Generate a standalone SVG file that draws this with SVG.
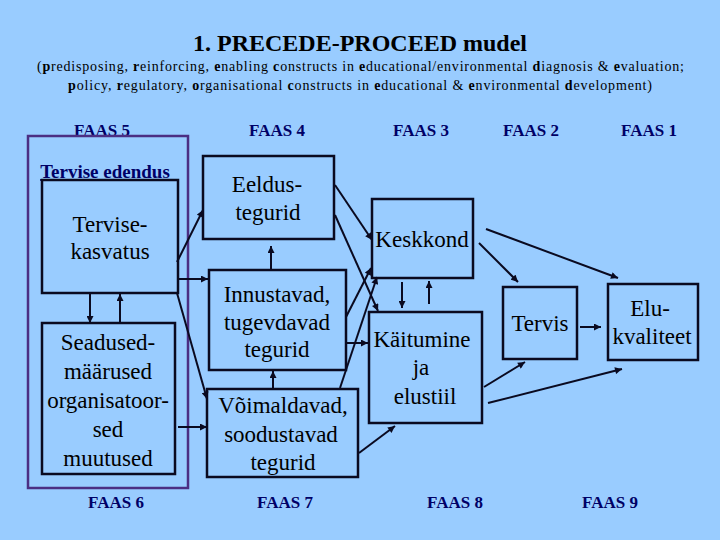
<svg xmlns="http://www.w3.org/2000/svg" width="720" height="540" viewBox="0 0 720 540">
<defs>
<marker id="ah" viewBox="0 0 10 10" refX="10" refY="5" markerWidth="8" markerHeight="7" markerUnits="userSpaceOnUse" orient="auto">
<path d="M0,0 L10,5 L0,10 z" fill="#0a0a20"/>
</marker>
</defs>
<style>
.bx{fill:none;stroke:#0a0a20;stroke-width:2.5}
.t{font-family:"Liberation Serif","Times New Roman",serif;font-size:23px;fill:#000;text-anchor:middle}
.faas{font-family:"Liberation Serif","Times New Roman",serif;font-size:17px;font-weight:bold;fill:#000066;text-anchor:middle}
.sub{font-family:"Liberation Serif","Times New Roman",serif;font-size:14px;fill:#000}
.c line{stroke:#0a0a20;stroke-width:2;marker-end:url(#ah)}
</style>
<rect width="720" height="540" fill="#99CCFF"/>
<g id="title">
<text x="360" y="51" font-family="Liberation Serif, Times New Roman, serif" font-size="24" font-weight="bold" fill="#000" text-anchor="middle">1. PRECEDE-PROCEED mudel</text>
<text class="sub" x="37" y="71" textLength="647" lengthAdjust="spacing">(<tspan font-weight="bold">p</tspan>redisposing, <tspan font-weight="bold">r</tspan>einforcing, <tspan font-weight="bold">e</tspan>nabling <tspan font-weight="bold">c</tspan>onstructs in <tspan font-weight="bold">e</tspan>ducational/environmental <tspan font-weight="bold">d</tspan>iagnosis &amp; <tspan font-weight="bold">e</tspan>valuation;</text>
<text class="sub" x="68" y="90" textLength="584" lengthAdjust="spacing"><tspan font-weight="bold">p</tspan>olicy, <tspan font-weight="bold">r</tspan>egulatory, <tspan font-weight="bold">o</tspan>rganisational <tspan font-weight="bold">c</tspan>onstructs in <tspan font-weight="bold">e</tspan>ducational &amp; <tspan font-weight="bold">e</tspan>nvironmental <tspan font-weight="bold">d</tspan>evelopment)</text>
</g>
<g id="phases">
<text class="faas" x="102" y="136">FAAS 5</text>
<text class="faas" x="277" y="136">FAAS 4</text>
<text class="faas" x="421" y="136">FAAS 3</text>
<text class="faas" x="531" y="136">FAAS 2</text>
<text class="faas" x="649" y="136">FAAS 1</text>
<text class="faas" x="116" y="508">FAAS 6</text>
<text class="faas" x="285" y="508">FAAS 7</text>
<text class="faas" x="455" y="508">FAAS 8</text>
<text class="faas" x="610" y="508">FAAS 9</text>
</g>
<g id="tervise-edendus">
<rect x="28" y="136" width="160" height="352" fill="none" stroke="#4B2E83" stroke-width="2.5"/>
<text x="105" y="178" font-family="Liberation Serif, Times New Roman, serif" font-size="19" font-weight="bold" fill="#000066" text-anchor="middle" text-decoration="underline">Tervise edendus</text>
</g>
<g id="tervisekasvatus">
<rect class="bx" x="42" y="180" width="136" height="113"/>
<text class="t" x="110" y="232">Tervise-</text>
<text class="t" x="110" y="259">kasvatus</text>
</g>
<g id="seadused">
<rect class="bx" x="42" y="323" width="133" height="151"/>
<text class="t" x="108" y="350">Seadused-</text>
<text class="t" x="108" y="379">määrused</text>
<text class="t" x="108" y="408">organisatoor-</text>
<text class="t" x="108" y="437">sed</text>
<text class="t" x="108" y="466">muutused</text>
</g>
<g id="eeldustegurid">
<rect class="bx" x="203" y="156" width="131" height="83"/>
<text class="t" x="267" y="192">Eeldus-</text>
<text class="t" x="268" y="220">tegurid</text>
</g>
<g id="innustavad">
<rect class="bx" x="209" y="270" width="137" height="100"/>
<text class="t" x="277" y="302">Innustavad,</text>
<text class="t" x="277" y="330">tugevdavad</text>
<text class="t" x="277" y="357">tegurid</text>
</g>
<g id="voimaldavad">
<rect class="bx" x="207" y="389" width="151" height="88"/>
<text class="t" x="283" y="413">Võimaldavad,</text>
<text class="t" x="281" y="442">soodustavad</text>
<text class="t" x="283" y="470">tegurid</text>
</g>
<g id="keskkond">
<rect class="bx" x="372" y="199" width="101" height="79"/>
<text class="t" x="422" y="247">Keskkond</text>
</g>
<g id="kaitumine">
<rect class="bx" x="369" y="312" width="113" height="111"/>
<text class="t" x="422" y="347">Käitumine</text>
<text class="t" x="421" y="375">ja</text>
<text class="t" x="425" y="404">elustiil</text>
</g>
<g id="tervis">
<rect class="bx" x="503" y="287" width="74" height="72"/>
<text class="t" x="540" y="331">Tervis</text>
</g>
<g id="elukvaliteet">
<rect class="bx" x="608" y="284" width="90" height="76"/>
<text class="t" x="650" y="316">Elu-</text>
<text class="t" x="652" y="344">kvaliteet</text>
</g>
<g id="connectors" class="c">
<line x1="90" y1="293" x2="90" y2="323"/>
<line x1="120" y1="323" x2="120" y2="294"/>
<line x1="177" y1="262" x2="203" y2="210"/>
<line x1="177" y1="279" x2="208" y2="279"/>
<line x1="177" y1="293" x2="207" y2="399"/>
<line x1="178" y1="427" x2="207" y2="427"/>
<line x1="271" y1="270" x2="271" y2="246"/>
<line x1="273" y1="389" x2="273" y2="371"/>
<line x1="335" y1="185" x2="372" y2="240"/>
<line x1="335" y1="215" x2="378" y2="311"/>
<line x1="346" y1="317" x2="371" y2="268"/>
<line x1="346" y1="343" x2="368" y2="343"/>
<line x1="340" y1="388" x2="377" y2="277"/>
<line x1="402" y1="282" x2="402" y2="308"/>
<line x1="429" y1="304" x2="429" y2="281"/>
<line x1="359" y1="453" x2="395" y2="426"/>
<line x1="479" y1="243" x2="518" y2="282"/>
<line x1="486" y1="229" x2="618" y2="278"/>
<line x1="484" y1="387" x2="525" y2="362"/>
<line x1="488" y1="403" x2="622" y2="369"/>
<line x1="580" y1="327" x2="601" y2="327"/>
</g>
</svg>
